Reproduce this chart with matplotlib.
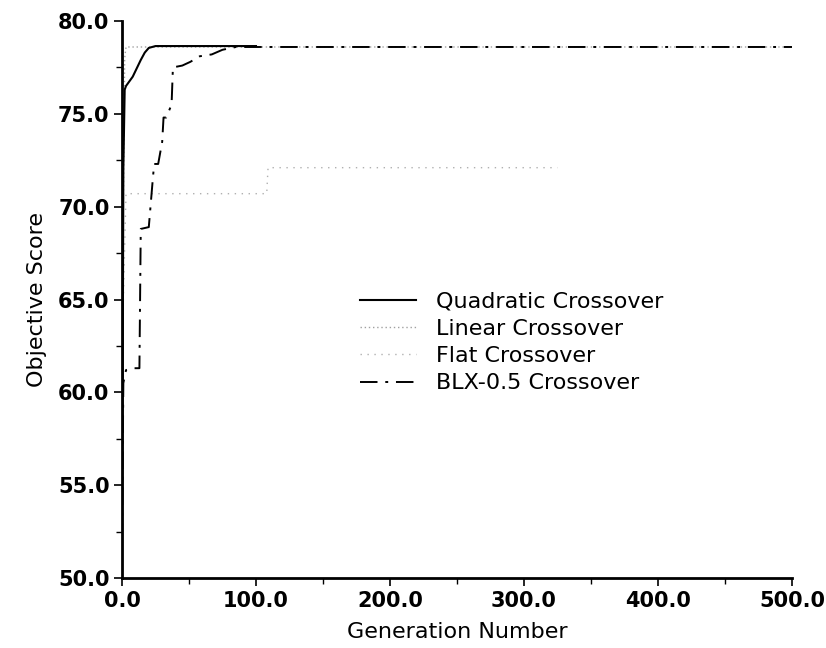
import matplotlib
matplotlib.use("Agg")
import matplotlib.pyplot as plt
from matplotlib.ticker import MultipleLocator, FormatStrFormatter

plt.rcParams['font.family'] = ['DejaVu Sans']

# generation / score pairs
quad_gen = [0, 0.5, 1, 2, 3, 5, 8, 10, 12, 14, 17, 20, 25, 60, 100]
quad_score = [50.0, 60.0, 72.0, 76.3, 76.5, 76.7, 77.0, 77.3, 77.6, 77.9, 78.3, 78.55, 78.65, 78.65, 78.65]

lin_gen = [0, 1, 2, 3, 500]
lin_score = [50.0, 70.0, 78.0, 78.6, 78.6]

flat_gen = [0, 1, 3, 108, 109, 325]
flat_score = [50.0, 65.0, 70.7, 70.7, 72.1, 72.1]

blx_gen = [0, 1, 3, 9, 13, 14, 20, 23, 24, 27, 30, 31, 33, 37, 38, 45, 51, 58, 67, 75, 85, 500]
blx_score = [52.0, 60.5, 61.2, 61.3, 61.3, 68.8, 68.9, 71.5, 72.3, 72.3, 73.5, 74.8, 74.8, 75.5,
             77.5, 77.6, 77.8, 78.1, 78.2, 78.45, 78.6, 78.6]

fig = plt.figure(figsize=(8.26, 6.48), dpi=100)
ax = fig.add_axes([0.1477, 0.108, 0.8111, 0.8596])

ax.plot(flat_gen, flat_score, color='#b0b0b0', lw=1.0, linestyle=(0, (1, 4)), label='Flat Crossover')
ax.plot(lin_gen, lin_score, color='#a0a0a0', lw=1.0, linestyle=(0, (1, 2)), label='Linear Crossover')
ax.plot(blx_gen, blx_score, color='black', lw=1.4, linestyle=(0, (9, 4, 1.5, 4)), label='BLX-0.5 Crossover')
ax.plot(quad_gen, quad_score, color='black', lw=1.5, linestyle='-', label='Quadratic Crossover')

ax.set_xlim(0, 500)
ax.set_ylim(50, 80)
ax.xaxis.set_major_locator(MultipleLocator(100))
ax.xaxis.set_minor_locator(MultipleLocator(50))
ax.yaxis.set_major_locator(MultipleLocator(5))
ax.yaxis.set_minor_locator(MultipleLocator(2.5))
ax.xaxis.set_major_formatter(FormatStrFormatter('%.1f'))
ax.yaxis.set_major_formatter(FormatStrFormatter('%.1f'))
ax.tick_params(which='major', length=6, width=1.2, labelsize=15, direction='out', pad=3)
ax.tick_params(which='minor', length=4, width=1.0, direction='out')
for lab in ax.get_xticklabels() + ax.get_yticklabels():
    lab.set_fontweight('bold')

for s in ['top', 'right']:
    ax.spines[s].set_visible(False)
ax.spines['left'].set_linewidth(2)
ax.spines['bottom'].set_linewidth(2)

ax.set_xlabel('Generation Number', fontsize=16, labelpad=8)
ax.set_ylabel('Objective Score', fontsize=16, labelpad=8)

handles, labels = ax.get_legend_handles_labels()
order = [3, 1, 0, 2]
ax.legend([handles[i] for i in order], [labels[i] for i in order],
          loc='upper left', bbox_to_anchor=(340 / 826, 1 - 272 / 648),
          bbox_transform=fig.transFigure, frameon=False, fontsize=16,
          handlelength=2.5, handletextpad=0.9, labelspacing=0.32)

fig.savefig('out.png', dpi=100)
